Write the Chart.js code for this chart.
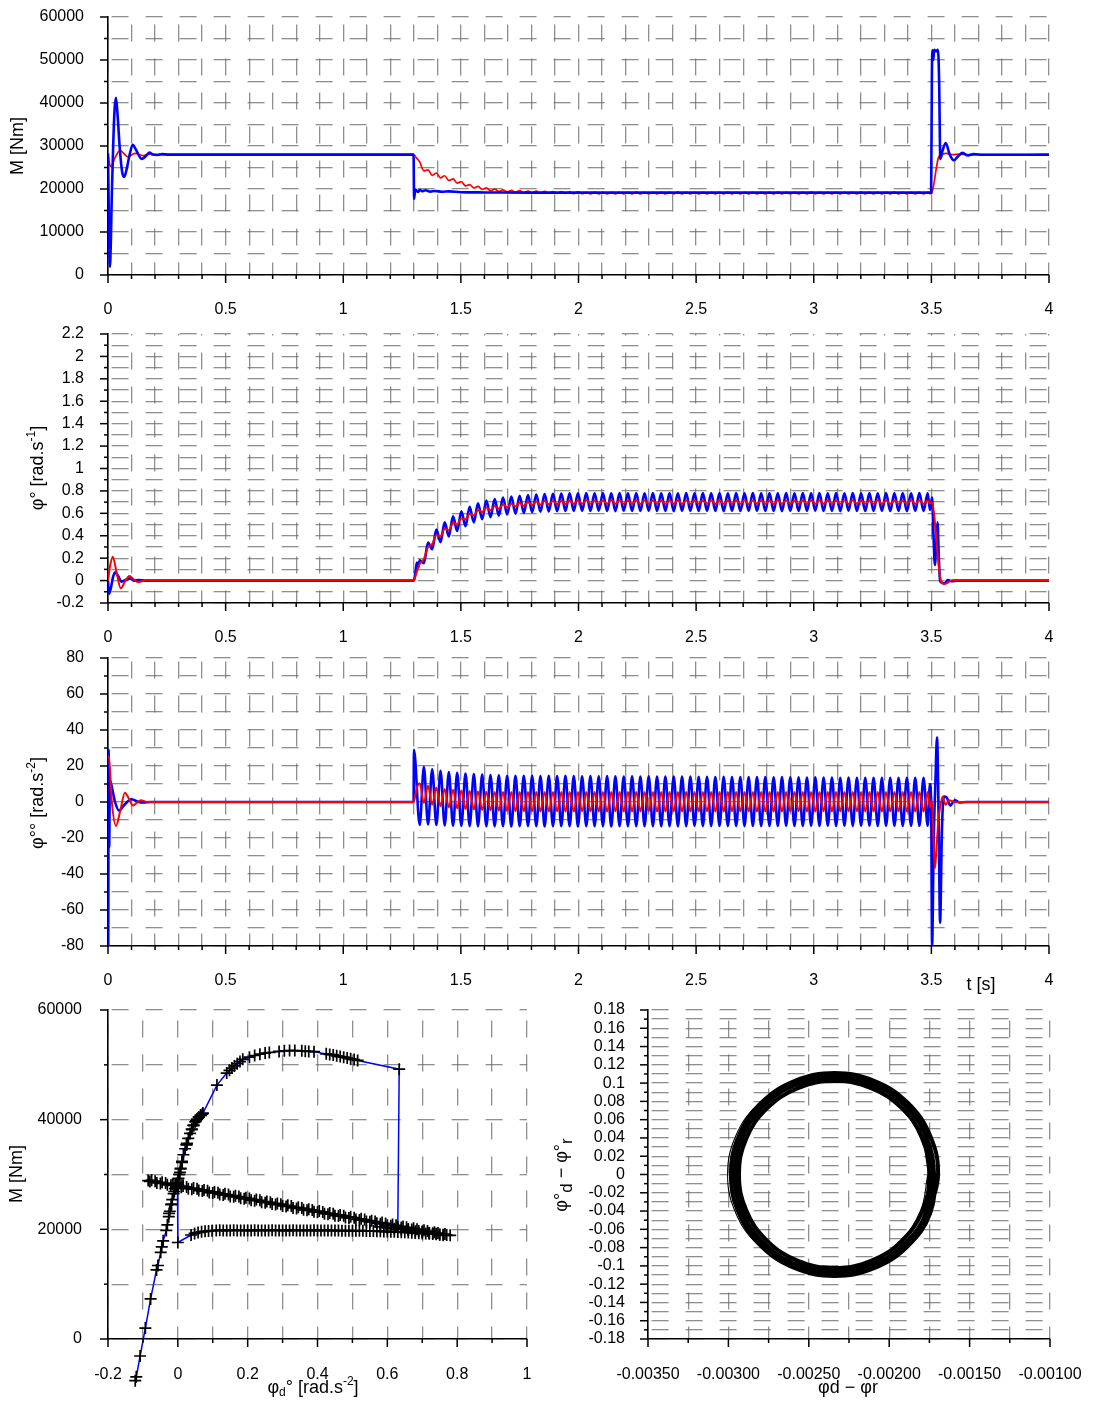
<!DOCTYPE html>
<html><head><meta charset="utf-8">
<script src="https://cdn.jsdelivr.net/npm/chart.js@4.4.1/dist/chart.umd.min.js"></script>
<style>
html,body{margin:0;padding:0;background:#fff;width:1099px;height:1404px;overflow:hidden;}
.box{position:absolute;}
</style></head><body>
<div class="box" style="left:0;top:0;width:1099px;height:322px"><canvas id="c1"></canvas></div>
<div class="box" style="left:0;top:322px;width:1099px;height:324px"><canvas id="c2"></canvas></div>
<div class="box" style="left:0;top:646px;width:1099px;height:354px"><canvas id="c3"></canvas></div>
<div class="box" style="left:0;top:1000px;width:550px;height:404px"><canvas id="c4"></canvas></div>
<div class="box" style="left:550px;top:1000px;width:549px;height:404px"><canvas id="c5"></canvas></div>
<script>
// ---------- shared oscillation sample times (extremes), s ----------
const tOsc = [
1.3250,1.3427,1.3604,1.3781,1.3958,1.4135,1.4312,1.4489,1.4666,1.4843,
1.5020,1.5197,1.5374,1.5551,1.5728,1.5905,1.6082,1.6259,1.6436,1.6613,
1.6790,1.6967,1.7144,1.7321,1.7498,1.7675,1.7852,1.8029,1.8206,1.8383,
1.8560,1.8737,1.8914,1.9091,1.9268,1.9445,1.9622,1.9799,1.9976,2.0153,
2.0330,2.0507,2.0684,2.0861,2.1038,2.1215,2.1392,2.1569,2.1746,2.1923,
2.2100,2.2277,2.2454,2.2631,2.2808,2.2985,2.3162,2.3339,2.3516,2.3693,
2.3870,2.4047,2.4224,2.4401,2.4578,2.4755,2.4932,2.5109,2.5286,2.5463,
2.5640,2.5817,2.5994,2.6171,2.6348,2.6525,2.6702,2.6879,2.7056,2.7233,
2.7410,2.7587,2.7764,2.7941,2.8118,2.8295,2.8472,2.8649,2.8826,2.9003,
2.9180,2.9357,2.9534,2.9711,2.9888,3.0065,3.0242,3.0419,3.0596,3.0773,
3.0950,3.1127,3.1304,3.1481,3.1658,3.1835,3.2012,3.2189,3.2366,3.2543,
3.2720,3.2897,3.3074,3.3251,3.3428,3.3605,3.3782,3.3959,3.4136,3.4313,
3.4490,3.4667,3.4844];

// ---------- chart 1: M [Nm] ----------
const mBlueT = [0,0.004,0.008,0.012,0.016,0.022,0.028,0.034,0.041,0.05,0.06,0.069,0.08,0.092,0.105,0.12,0.143,0.16,0.176,0.19,0.21,0.23,0.26,1.299,1.301,1.306,1.312,1.318,1.325,1.335,1.35,1.37,1.39,1.42,1.45,1.5,1.6,1.8,3.499,3.502,3.504,3.508,3.512,3.52,3.528,3.533,3.538,3.548,3.561,3.578,3.596,3.615,3.633,3.655,3.68,3.72,4.0];
const mBlueV = [28300,12000,1900,7500,18200,30000,38500,41200,37000,29500,24000,22800,24800,28000,30300,29000,27000,27600,28500,28000,27900,28100,28000,28000,17700,19900,19600,19300,19800,19500,19700,19400,19550,19350,19450,19250,19200,19150,19150,45000,52300,50000,52400,52000,52400,45000,27000,29000,30700,28000,26700,27700,28400,27800,28100,27950,28000];
const mRedPreT = [0,0.006,0.013,0.03,0.051,0.068,0.084,0.1,0.115,0.133,0.15,0.165,0.18,0.2,0.25,1.3,1.31];
const mRedPreV = [28000,26000,25200,27300,29000,28200,27500,27900,28300,28000,27750,27950,28150,28000,28000,28000,27300];
const mRedOsc = [
26300,24220,24460,23160,23720,22600,23080,21990,22340,21380,
21700,20710,21030,20230,20610,19900,20240,19620,19970,19440,
19780,19320,19670,19230,19600,19170,19540,19110,19490,19070,
19450,19030,19410,19000,19380,18960,19350,18930,19320,18900,
19250,18850,19260,18860,19240,18840,19250,18850,19250,18860,
19240,18850,19260,18850,19250,18840,19250,18860,19240,18850,
19250,18850,19260,18860,19250,18840,19240,18850,19250,18860,
19250,18850,19240,18850,19260,18860,19250,18840,19250,18850,
19240,18860,19250,18850,19250,18850,19260,18840,19250,18860,
19240,18850,19250,18850,19260,18860,19250,18840,19250,18850,
19240,18860,19250,18850,19250,18850,19260,18840,19250,18860,
19240,18850,19250,18850,19260,18860,19250,18840,19250,18850,
19250,18860,19250];
const mRedPostT = [3.494,3.501,3.51,3.52,3.53,3.545,3.565,3.59,3.62,3.65,4.0];
const mRedPostV = [18900,19050,21000,24500,27300,28000,28300,28000,28100,28000,28000];

// ---------- chart 2: angular velocity ----------
const wBluePreT = [0,0.004,0.012,0.02,0.03,0.043,0.058,0.075,0.094,0.11,0.13,0.16,1.3,1.306,1.313,1.319];
const wBluePreV = [0,-0.12,-0.07,0.02,0.074,0.04,-0.01,0.005,0.02,0.0,0.004,0,0,0.06,0.16,0.12];
const wBlueOsc = [
0.180,0.155,0.340,0.280,0.455,0.343,0.519,0.394,0.573,0.442,
0.618,0.485,0.658,0.519,0.690,0.548,0.714,0.565,0.728,0.579,
0.741,0.589,0.749,0.597,0.757,0.604,0.763,0.610,0.768,0.614,
0.772,0.617,0.774,0.619,0.776,0.621,0.779,0.622,0.778,0.623,
0.780,0.621,0.779,0.623,0.781,0.622,0.778,0.620,0.780,0.623,
0.779,0.621,0.781,0.622,0.778,0.623,0.780,0.621,0.779,0.622,
0.781,0.620,0.779,0.623,0.780,0.622,0.778,0.621,0.780,0.623,
0.779,0.622,0.781,0.620,0.779,0.623,0.780,0.621,0.778,0.622,
0.780,0.623,0.779,0.621,0.781,0.622,0.778,0.620,0.780,0.623,
0.779,0.621,0.780,0.622,0.778,0.623,0.781,0.621,0.779,0.622,
0.780,0.620,0.779,0.623,0.781,0.622,0.778,0.621,0.780,0.622,
0.779,0.623,0.780,0.621,0.778,0.622,0.781,0.620,0.779,0.623,
0.780,0.622,0.779];
const wBluePostT = [3.494,3.503,3.509,3.515,3.521,3.526,3.531,3.537,3.545,3.555,3.57,3.585,3.61,4.0];
const wBluePostV = [0.63,0.74,0.4,0.14,0.35,0.52,0.25,0.0,-0.02,-0.025,0.005,-0.005,0,0];
const wRedPreT = [0,0.008,0.02,0.035,0.054,0.072,0.091,0.11,0.129,0.147,0.165,0.19,1.3,1.31,1.318];
const wRedPreV = [0,0.12,0.213,0.09,-0.069,-0.01,0.041,0.01,-0.015,-0.003,0.005,0,0,0.06,0.11];
const wRedOsc = [
0.150,0.190,0.300,0.325,0.405,0.395,0.465,0.450,0.515,0.500,
0.555,0.548,0.595,0.582,0.627,0.611,0.651,0.628,0.665,0.642,
0.678,0.652,0.686,0.660,0.694,0.667,0.700,0.673,0.705,0.677,
0.709,0.680,0.711,0.682,0.713,0.684,0.715,0.685,0.715,0.686,
0.716,0.685,0.714,0.686,0.715,0.684,0.716,0.685,0.715,0.686,
0.714,0.685,0.716,0.684,0.715,0.686,0.715,0.685,0.714,0.685,
0.716,0.686,0.715,0.684,0.715,0.685,0.716,0.686,0.714,0.685,
0.715,0.684,0.716,0.685,0.715,0.686,0.714,0.685,0.716,0.684,
0.715,0.686,0.715,0.685,0.714,0.684,0.716,0.686,0.715,0.685,
0.715,0.685,0.716,0.684,0.714,0.686,0.715,0.685,0.716,0.685,
0.714,0.686,0.715,0.684,0.716,0.685,0.715,0.686,0.714,0.685,
0.716,0.684,0.715,0.686,0.715,0.685,0.714,0.685,0.716,0.686,
0.715,0.685,0.715];
const wRedPostT = [3.494,3.503,3.51,3.518,3.526,3.534,3.542,3.552,3.565,3.58,3.6,3.63,4.0];
const wRedPostV = [0.69,0.70,0.62,0.45,0.25,0.08,-0.01,-0.03,-0.025,-0.005,0.005,0,0];

// ---------- chart 3: angular acceleration ----------
const aBluePreT = [0,0.001,0.0025,0.005,0.008,0.016,0.03,0.047,0.07,0.1,0.13,0.15,0.18,1.299,1.3005];
const aBluePreV = [0,-80,29,-25,12,8.5,0,-4.8,-1.5,1.5,0,-0.3,0,0,29];
const aBlueOsc = [
-12.8,19.5,-12.5,18.2,-12.8,17.3,-13.0,16.7,-13.2,16.2,
-13.3,15.8,-13.4,15.5,-13.5,15.2,-13.5,15.0,-13.5,14.8,
-13.5,14.6,-13.6,14.5,-13.5,14.6,-13.4,14.5,-13.5,14.4,
-13.6,14.5,-13.5,14.4,-13.4,14.5,-13.5,14.4,-13.6,14.3,
-13.5,14.4,-13.4,14.3,-13.5,14.4,-13.6,14.3,-13.5,14.2,
-13.4,14.3,-13.5,14.2,-13.5,14.3,-13.4,14.2,-13.5,14.1,
-13.4,14.2,-13.5,14.1,-13.4,14.1,-13.3,14.0,-13.4,14.0,
-13.4,13.9,-13.3,14.0,-13.4,13.9,-13.3,13.9,-13.4,13.8,
-13.3,13.8,-13.4,13.8,-13.3,13.7,-13.3,13.8,-13.2,13.7,
-13.3,13.7,-13.3,13.6,-13.2,13.7,-13.3,13.6,-13.2,13.6,
-13.3,13.5,-13.2,13.6,-13.3,13.5,-13.2,13.5,-13.2,13.5,
-13.3,13.4,-13.2,13.5,-13.2,13.4,-13.3,13.4,-13.2,13.4,
-13.2,13.4,-13.2];
const aBluePostT = [3.494,3.499,3.503,3.51,3.517,3.524,3.531,3.537,3.545,3.553,3.565,3.58,3.6,3.62,3.65,4.0];
const aBluePostV = [10,0,-80,-20,10,36,-10,-67,-15,3,2.5,-2,1,-0.3,0,0];
const aRedPreT = [0,0.004,0.015,0.034,0.052,0.072,0.09,0.105,0.122,0.14,0.16,0.18,1.3,1.308,1.316];
const aRedPreV = [25,25.5,2,-13.3,-5,5.2,1.5,-2,-0.5,1,0.2,0,0,5,9];
const aRedOsc = [
10.4,-0.5,9.0,-1.5,8.0,-2.3,7.2,-3.0,6.8,-3.5,
6.4,-3.9,6.1,-4.2,5.9,-4.4,5.7,-4.6,5.6,-4.8,
5.5,-5.0,5.6,-5.1,5.5,-5.2,5.6,-5.2,5.5,-5.3,
5.6,-5.3,5.5,-5.2,5.6,-5.3,5.6,-5.3,5.5,-5.2,
5.6,-5.3,5.6,-5.3,5.5,-5.3,5.6,-5.2,5.6,-5.3,
5.5,-5.3,5.6,-5.3,5.6,-5.2,5.5,-5.3,5.6,-5.3,
5.6,-5.2,5.5,-5.3,5.6,-5.3,5.6,-5.3,5.5,-5.2,
5.6,-5.3,5.6,-5.3,5.5,-5.2,5.6,-5.3,5.6,-5.3,
5.5,-5.3,5.6,-5.2,5.6,-5.3,5.5,-5.3,5.6,-5.3,
5.6,-5.2,5.5,-5.3,5.6,-5.3,5.6,-5.2,5.5,-5.3,
5.6,-5.3,5.6,-5.3,5.5,-5.2,5.6,-5.3,5.6,-5.3,
5.5,-5.3,5.6,-5.2,5.6,-5.3,5.5,-5.3,5.6,-5.3,
5.5,-5.3,5.6];
const aRedPostT = [3.494,3.502,3.509,3.515,3.522,3.53,3.537,3.548,3.56,3.575,3.6,4.0];
const aRedPostV = [-3,1,-20,-37,-25,-10,-3,3,-1.5,1,0,0];

// ---------- chart 4: M vs drive speed (phase trajectory) ----------
const phaseStartX = [-0.122,-0.119,-0.108,-0.093,-0.078,-0.061,-0.057,-0.049,-0.046,-0.042,-0.033,-0.030,-0.026,-0.023,-0.019,-0.016,-0.012,-0.008,-0.004,0.000,0.004,0.008,0.012,0.016,0.021,0.026,0.030,0.035,0.040,0.045,0.050,0.055,0.060,0.065,0.070];
const phaseStartY = [-7600,-6900,-3100,2000,7300,12600,13400,15800,16800,17900,19800,20800,22300,23300,24500,25400,26500,27400,28200,29000,30000,31100,32400,33600,34700,35700,36600,37500,38300,39000,39600,40100,40500,40800,41000];
const phaseSettleX = [0.045,0.025,0.008,-0.010,-0.025,-0.018,-0.005,0.006,0.002,-0.006,-0.002,0.001,-0.001,0.000,0.000];
const phaseSettleY = [38900,35400,31000,26900,22900,24600,28000,30400,29300,27600,28400,28100,27900,27800,17600];
const phaseLowX = [0.038,0.048,0.058,0.068,0.078,0.088,0.098,
0.11,0.12,0.13,0.14,0.15,0.16,0.17,0.18,0.19,0.20,0.21,0.22,0.23,0.24,0.25,0.26,0.27,0.28,0.29,0.30,
0.31,0.32,0.33,0.34,0.35,0.36,0.37,0.38,0.39,0.40,0.41,0.42,0.43,0.44,0.45,0.46,0.47,0.48,0.49,0.50,
0.51,0.52,0.53,0.54,0.55,0.56,0.57,0.58,0.59,0.60,0.61,0.62,0.63,0.64,0.65,0.66,0.67,0.68,0.69,0.70,
0.71,0.72,0.73,0.74,0.75,0.76,0.77,0.78];
const phaseLowY = [18970,19250,19420,19550,19640,19700,19760,
19790,19820,19800,19780,19810,19830,19800,19790,19810,19800,19780,19820,19800,19790,19810,19800,19830,19790,19800,19810,
19780,19800,19820,19790,19800,19810,19790,19800,19820,19780,19800,19810,19790,19800,19780,19770,19760,19760,19750,19740,
19740,19730,19720,19710,19700,19680,19660,19640,19620,19600,19580,19550,19520,19490,19450,19420,19380,19340,19300,19260,
19220,19180,19140,19100,19050,19000,18950,18900];
const phaseUpX = [0.765,0.750,0.735,0.720,0.705,0.690,0.675,0.660,0.645,0.630,0.615,0.600,0.585,0.570,0.555,0.540,0.525,0.510,0.495,0.480,0.465,0.450,0.435,0.420,0.405,0.390,0.375,0.360,0.345,0.330,0.315,0.300,0.285,0.270,0.255,0.240,0.225,0.210,0.195,0.180,0.165,0.150,0.135,0.120,0.105,0.090,0.075,0.060,0.045,0.030,0.015,0.000,-0.015,-0.030,-0.045,-0.060,-0.075,-0.085];
const phaseUpY = [19130,19000,19480,19350,19830,19700,20180,20050,20530,20400,20880,20750,21230,21100,21580,21450,21930,21800,22280,22150,22630,22500,22980,22850,23330,23200,23680,23560,24030,23910,24380,24260,24730,24610,25080,24960,25430,25310,25780,25660,26130,26010,26480,26360,26830,26710,27180,27060,27540,27410,27890,27760,28240,28110,28590,28460,28940,28900];
const phaseArcX = [0.630,0.634,0.515,0.505,0.495,0.485,0.475,0.465,0.455,0.445,0.435,0.425,0.390,0.375,0.365,0.355,0.335,0.320,0.305,0.290,0.262,0.250,0.235,0.220,0.205,0.186,0.178,0.170,0.162,0.155,0.148,0.140,0.112,0.072,0.066,0.060,0.052,0.040,0.025,0.012,0.004,0.000,-0.003,0.001];
const phaseArcY = [20350,49200,50800,50950,51100,51250,51400,51500,51650,51800,51900,52000,52400,52450,52500,52550,52600,52600,52550,52450,52250,52150,51950,51700,51400,51000,50600,50200,49800,49400,49000,48500,46300,41200,40800,40400,39800,38200,35500,32200,30000,28600,27900,28000];
const phaseBackX = [-0.080,-0.065,-0.050,-0.035,-0.020,-0.005,0.010,0.025,0.040,0.055,0.070,0.085,0.100,0.115,0.130,0.145,0.160,0.175,0.190,0.205,0.220,0.235,0.250,0.265,0.280,0.295,0.310,0.325,0.340,0.355,0.370,0.385,0.400,0.415,0.430,0.445,0.460,0.475,0.490,0.505,0.520,0.535,0.550,0.565,0.580,0.595,0.610,0.625,0.640,0.655,0.670,0.685,0.700,0.715,0.730,0.745,0.760,
0.740,0.720,0.700,0.680,0.660,0.640,0.620,0.600,0.580];
const phaseBackY = [28725,28790,28374,28439,28024,28089,27674,27738,27323,27388,26973,27038,26622,26687,26272,26337,25922,25986,25571,25636,25221,25286,24870,24935,24520,24585,24170,24234,23819,23884,23469,23534,23118,23183,22768,22833,22418,22482,22067,22132,21717,21782,21366,21431,21016,21081,20666,20730,20315,20380,19965,20030,19614,19679,19264,19329,18914,
19185,19340,19500,19670,19825,19980,20125,20300,20450];

// ---------- chart 5: phase portrait of relative motion ----------
const ringX = [-0.001751,
-0.001696,-0.001745,-0.001885,-0.002094,-0.002340,-0.002586,-0.002795,-0.002935,-0.002984,-0.002935,-0.002795,-0.002586,-0.002340,-0.002094,-0.001885,-0.001745,
-0.001721,-0.001768,-0.001902,-0.002103,-0.002340,-0.002577,-0.002778,-0.002912,-0.002959,-0.002912,-0.002778,-0.002577,-0.002340,-0.002103,-0.001902,-0.001768,
-0.001746,-0.001791,-0.001920,-0.002113,-0.002340,-0.002567,-0.002760,-0.002889,-0.002934,-0.002889,-0.002760,-0.002567,-0.002340,-0.002113,-0.001920,-0.001791,-0.001746,-0.001770];
const ringY = [-0.0410,
0,0.0425,0.0785,0.1026,0.1110,0.1026,0.0785,0.0425,0,-0.0425,-0.0785,-0.1026,-0.1110,-0.1026,-0.0785,-0.0425,
0,0.0408,0.0755,0.0986,0.1067,0.0986,0.0755,0.0408,0,-0.0408,-0.0755,-0.0986,-0.1067,-0.0986,-0.0755,-0.0408,
0,0.0392,0.0723,0.0945,0.1023,0.0945,0.0723,0.0392,0,-0.0392,-0.0723,-0.0945,-0.1023,-0.0945,-0.0723,-0.0392,0,0.0380];
const ringThinX = [
-0.001755,-0.001803,-0.001938,-0.002141,-0.002380,-0.002619,-0.002822,-0.002957,-0.003005,-0.002957,-0.002822,-0.002619,-0.002380,-0.002141,-0.001938,-0.001803,
-0.001760,-0.001806,-0.001939,-0.002137,-0.002370,-0.002603,-0.002801,-0.002934,-0.002980,-0.002934,-0.002801,-0.002603,-0.002370,-0.002137,-0.001939,-0.001806,-0.001760];
const ringThinY = [
0,0.0411,0.0760,0.0993,0.1075,0.0993,0.0760,0.0411,0,-0.0411,-0.0760,-0.0993,-0.1075,-0.0993,-0.0760,-0.0411,
0,0.0400,0.0739,0.0966,0.1045,0.0966,0.0739,0.0400,0,-0.0400,-0.0739,-0.0966,-0.1045,-0.0966,-0.0739,-0.0400,0];

// ---------- helpers ----------
const pts = (xs, ys) => xs.map((x, i) => ({x, y: ys[i]}));
const join = (...parts) => [].concat(...parts);
const FONT = '"Liberation Sans", Arial, Helvetica, sans-serif';
Chart.defaults.font.family = FONT;
Chart.defaults.font.size = 16;
Chart.defaults.color = '#000';
Chart.defaults.animation = false;
const GRID = 'rgba(105,105,105,0.75)';
const isMajor = (v, m) => Math.abs(v / m - Math.round(v / m)) < 1e-6;

function axis(dir, min, max, step, major, fmt, size, dashOffset, pad) {
  return {
    type: 'linear', min, max,
    ticks: { stepSize: step, autoSkip: false, maxRotation: 0, minRotation: 0, padding: pad,
      maxTicksLimit: 1000, color: '#000', font: {size: 16},
      callback: (v) => isMajor(v, major) ? fmt(v) : '' },
    grid: { color: GRID, lineWidth: 1.3, drawTicks: false },
    border: { display: true, color: '#000', width: 1.6, dash: [17, 17], dashOffset },
    afterFit: (s) => {
      if (dir === 'x') s.height = size; else s.width = size;
      s.paddingTop = 0; s.paddingBottom = 0; s.paddingLeft = 0; s.paddingRight = 0;
    }
  };
}

const tickMarks = {
  id: 'tickMarks',
  afterDraw(chart, args, o) {
    const ctx = chart.ctx;
    ctx.save(); ctx.strokeStyle = '#000'; ctx.lineWidth = 1.5;
    [['x', o.xMajor], ['y', o.yMajor]].forEach(([id, mj]) => {
      const s = chart.scales[id];
      s.ticks.forEach(t => {
        const len = isMajor(t.value, mj) ? 8 : 4;
        const p = s.getPixelForValue(t.value);
        ctx.beginPath();
        if (id === 'x') { ctx.moveTo(p, s.top); ctx.lineTo(p, s.top + len); }
        else { ctx.moveTo(s.right - len, p); ctx.lineTo(s.right, p); }
        ctx.stroke();
      });
    });
    ctx.restore();
  }
};

// draws markers that lie outside the plot area (Chart.js skips them)
const outsidePoints = {
  id: 'outsidePoints',
  afterDatasetsDraw(chart, args, o) {
    if (!o || !o.enabled) return;
    const ctx = chart.ctx, a = chart.chartArea;
    chart.data.datasets.forEach((ds, di) => {
      const meta = chart.getDatasetMeta(di);
      meta.data.forEach(el => {
        const op = el.options;
        if (!op || op.radius < 0.1) return;
        if (el.x >= a.left && el.x <= a.right && el.y >= a.top && el.y <= a.bottom) return;
        ctx.save();
        ctx.strokeStyle = op.borderColor; ctx.fillStyle = op.backgroundColor; ctx.lineWidth = op.borderWidth;
        Chart.helpers.drawPoint(ctx, op, el.x, el.y);
        ctx.restore();
      });
    });
  }
};

const richText = {
  id: 'richText',
  afterDraw(chart, args, o) {
    const ctx = chart.ctx;
    (o.items || []).forEach(it => {
      const base = it.size || 18;
      ctx.save();
      ctx.translate(it.x, it.y);
      if (it.rotate) ctx.rotate(-Math.PI / 2);
      ctx.fillStyle = '#000'; ctx.textBaseline = 'middle'; ctx.textAlign = 'left';
      let w = 0;
      const segs = it.segs.map(s => {
        const sz = s.size || ((s.sup || s.sub) ? Math.round(base * 0.66) : base);
        ctx.font = sz + 'px ' + FONT;
        const m = ctx.measureText(s.t).width; w += m;
        return Object.assign({}, s, {sz, m});
      });
      let x = -w / 2;
      segs.forEach(s => {
        ctx.font = s.sz + 'px ' + FONT;
        const dy = s.sup ? -base * 0.36 : (s.sub ? base * 0.28 : 0);
        ctx.fillText(s.t, x, dy);
        x += s.m;
      });
      ctx.restore();
    });
  }
};

function make(id, cfg) {
  return new Chart(document.getElementById(id), {
    type: 'scatter',
    data: { datasets: cfg.datasets },
    options: {
      responsive: true, maintainAspectRatio: false, devicePixelRatio: 1, events: [],
      layout: { padding: cfg.padding },
      scales: { x: cfg.x, y: cfg.y },
      plugins: { legend: {display: false}, tooltip: {enabled: false},
        tickMarks: cfg.marks, richText: { items: cfg.texts }, outsidePoints: { enabled: !!cfg.outside } }
    },
    plugins: [tickMarks, richText, outsidePoints]
  });
}
function curve(data, color, width) {
  return { data, showLine: true, borderColor: color, backgroundColor: color, borderWidth: width,
    pointRadius: 0, cubicInterpolationMode: 'monotone', tension: 0.4, fill: false };
}
const fT = v => String(parseFloat(v.toFixed(1)));
const fI = v => String(Math.round(v));
const f2 = v => String(parseFloat(v.toFixed(2)));
const f5 = v => v.toFixed(5);
const BLUE = '#0000ff', RED = '#ff0000';

// chart 1
make('c1', {
  padding: {top: 17, right: 50, left: 0, bottom: 0},
  x: axis('x', 0, 4, 0.1, 0.5, fT, 47, 26.5, 25),
  y: axis('y', 0, 60000, 5000, 10000, fI, 108, 31, 24),
  marks: {xMajor: 0.5, yMajor: 10000},
  texts: [{x: 18, y: 146, rotate: true, segs: [{t: 'M [Nm]'}]}],
  datasets: [
    curve(pts(mBlueT, mBlueV), BLUE, 2.6),
    curve(join(pts(mRedPreT, mRedPreV), pts(tOsc, mRedOsc), pts(mRedPostT, mRedPostV)), RED, 1.7)
  ]
});
// chart 2
make('c2', {
  padding: {top: 12, right: 50, left: 0, bottom: 0},
  x: axis('x', 0, 4, 0.1, 0.5, fT, 43, 15.5, 25),
  y: axis('y', -0.2, 2.2, 0.1, 0.2, fT, 108, 31, 24),
  marks: {xMajor: 0.5, yMajor: 0.2},
  texts: [{x: 38, y: 146, rotate: true, segs: [{t: 'φ° [rad.s'}, {t: '-1', sup: true}, {t: ']'}]}],
  datasets: [
    curve(join(pts(wRedPreT, wRedPreV), pts(tOsc, wRedOsc), pts(wRedPostT, wRedPostV)), RED, 2),
    curve(join(pts(wBluePreT, wBluePreV), pts(tOsc, wBlueOsc), pts(wBluePostT, wBluePostV)), BLUE, 2.6)
  ]
});
// chart 3
make('c3', {
  padding: {top: 12, right: 50, left: 0, bottom: 0},
  x: axis('x', 0, 4, 0.1, 0.5, fT, 54, 30.5, 25),
  y: axis('y', -80, 80, 10, 20, fI, 108, 31, 24),
  marks: {xMajor: 0.5, yMajor: 20},
  texts: [
    {x: 38, y: 157, rotate: true, segs: [{t: 'φ°° [rad.s'}, {t: '-2', sup: true}, {t: ']'}]},
    {x: 981, y: 339, segs: [{t: 't [s]'}]}
  ],
  datasets: [
    curve(join(pts(aRedPreT, aRedPreV), pts(tOsc, aRedOsc), pts(aRedPostT, aRedPostV)), RED, 2),
    curve(join(pts(aBluePreT, aBluePreV), pts(tOsc, aBlueOsc), pts(aBluePostT, aBluePostV)), BLUE, 2.6)
  ]
});
// chart 4
make('c4', {
  padding: {top: 10, right: 23, left: 0, bottom: 0},
  x: axis('x', -0.2, 1, 0.1, 0.2, fT, 65, 23.5, 26),
  y: axis('y', 0, 60000, 10000, 20000, fI, 108, 31, 26),
  marks: {xMajor: 0.2, yMajor: 20000},
  outside: true,
  texts: [
    {x: 17, y: 174, rotate: true, segs: [{t: 'M [Nm]'}]},
    {x: 313, y: 388, segs: [{t: 'φ'}, {t: 'd', sub: true}, {t: '° [rad.s'}, {t: '-2', sup: true}, {t: ']'}]}
  ],
  datasets: [{
    data: join(pts(phaseStartX, phaseStartY), pts(phaseSettleX, phaseSettleY), pts(phaseLowX, phaseLowY), pts(phaseUpX, phaseUpY), pts(phaseArcX, phaseArcY), pts(phaseBackX, phaseBackY)),
    showLine: true, borderColor: BLUE, borderWidth: 1.5, tension: 0, clip: false,
    pointStyle: 'cross', pointRadius: 6, pointBorderColor: '#000', pointBackgroundColor: '#000', pointBorderWidth: 1.7
  }]
});
// chart 5
make('c5', {
  padding: {top: 10, right: 49, left: 0, bottom: 0},
  x: axis('x', -0.0035, -0.001, 0.00025, 0.0005, f5, 65, 23.5, 26),
  y: axis('y', -0.18, 0.18, 0.01, 0.02, f2, 98, 31, 23),
  marks: {xMajor: 0.0005, yMajor: 0.02},
  texts: [
    {x: 12, y: 175, rotate: true, segs: [{t: 'φ°'}, {t: 'd', sub: true, size: 17}, {t: ' − φ°'}, {t: 'r', sub: true, size: 17}]},
    {x: 298, y: 388, segs: [{t: 'φd − φr'}]}
  ],
  datasets: [{
    data: pts(ringX, ringY), showLine: true, borderColor: '#000', borderWidth: 4,
    pointRadius: 0, tension: 0.4, fill: false
  }, {
    data: pts(ringThinX, ringThinY), showLine: true, borderColor: '#000', borderWidth: 1.1,
    pointRadius: 0, tension: 0.4, fill: false
  }]
});
</script>
</body></html>
